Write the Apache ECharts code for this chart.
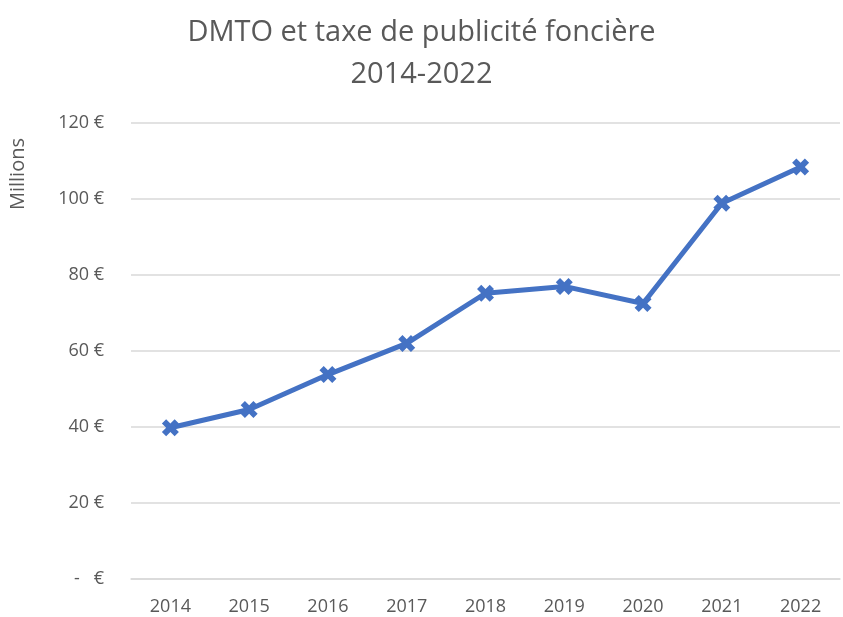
<!DOCTYPE html>
<html>
<head>
<meta charset="utf-8">
<script src="https://cdn.jsdelivr.net/npm/echarts@6/dist/echarts.min.js"></script>
<style>
  html, body { margin: 0; padding: 0; background: #fff; }
  #chart { width: 843px; height: 617px; }
</style>
</head>
<body>
<div id="chart"></div>
<script>
	// années et montants (millions d'euros)
	var annees = ['2014', '2015', '2016', '2017', '2018', '2019', '2020', '2021', '2022'];
	var montants = [39.8, 44.6, 53.8, 62.0, 75.2, 77.0, 72.5, 98.9, 108.4];
	var titre = 'DMTO et taxe de publicité foncière\n2014-2022';

	var myChart = echarts.init(document.getElementById('chart'));
	var gris = '#595959';
	// marqueur en forme de croix épaisse (type Excel)
	var croix = 'path://M2.5,0 L5,2.5 L7.5,0 L10,2.5 L7.5,5 L10,7.5 L7.5,10 L5,7.5 L2.5,10 L0,7.5 L2.5,5 L0,2.5 Z';

	var option = {
		animation: false,
		title: {
			text: titre,
			left: 'center',
			top: 7,
			textStyle: {
				fontFamily: 'Open Sans',
				fontSize: 29,
				fontWeight: 'normal',
				color: gris,
				lineHeight: 42
			}
		},
		grid: { left: 131, right: 3, top: 123, bottom: 38 },
		graphic: [{
			type: 'text',
			left: 8,
			top: 138,
			rotation: Math.PI / 2,
			style: {
				text: 'Millions',
				font: '20px "Open Sans"',
				fill: gris
			}
		}],
		xAxis: {
			type: 'category',
			data: annees,
			axisLine: { lineStyle: { color: '#d9d9d9', width: 1.5 } },
			axisTick: { show: false },
			axisLabel: { color: gris, fontSize: 18, fontFamily: 'Open Sans', margin: 19 }
		},
		yAxis: {
			type: 'value',
			min: 0,
			max: 120,
			interval: 20,
			axisLine: { show: false },
			axisTick: { show: false },
			splitLine: { lineStyle: { color: '#d9d9d9', width: 1.5 } },
			axisLabel: {
				color: gris,
				fontSize: 18,
				fontFamily: 'Open Sans',
				margin: 27,
				formatter: function (v) { return v === 0 ? '-   €' : v + ' €'; }
			}
		},
		series: [{
			type: 'line',
			data: montants,
			symbol: croix,
			symbolSize: 17,
			lineStyle: { color: '#4472C4', width: 5 },
			itemStyle: { color: '#4472C4' }
		}]
	};
	myChart.setOption(option);
</script>
</body>
</html>
